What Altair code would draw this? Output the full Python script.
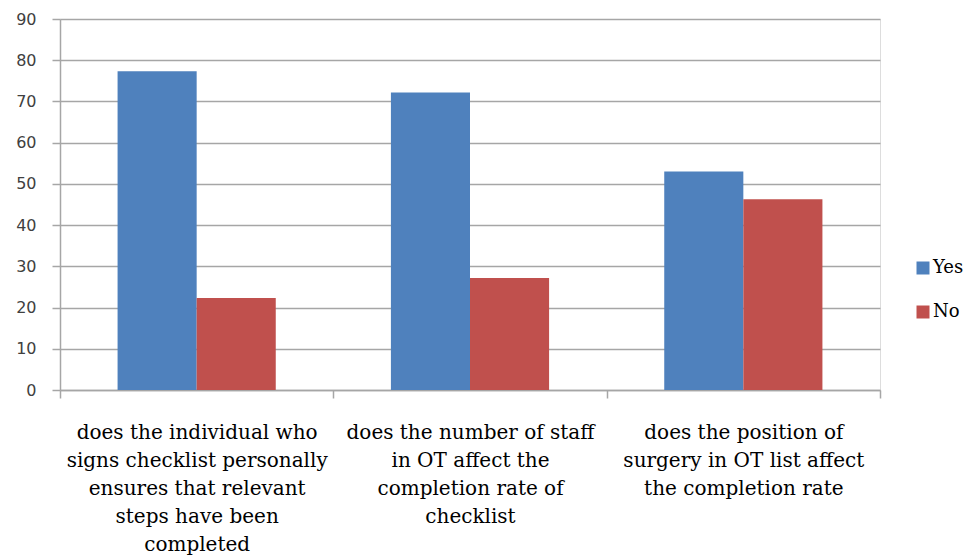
import altair as alt
import pandas as pd

# Survey questions (each split into its wrapped label lines)
questions = [
    ["does the individual who", "signs checklist personally", "ensures that relevant",
     "steps have been", "completed"],
    ["does the number of staff", "in OT affect the", "completion rate of", "checklist"],
    ["does the position of", "surgery in OT list affect", "the completion rate"],
]
responses = ["Yes", "No"]
yes_pct = [77.3, 72.2, 53.0]
no_pct = [22.3, 27.2, 46.3]

labels = ["|".join(q) for q in questions]
rows = []
for lab, y, n in zip(labels, yes_pct, no_pct):
    rows.append({"question": lab, "response": "Yes", "pct": y})
    rows.append({"question": lab, "response": "No", "pct": n})
df = pd.DataFrame(rows)

GRID = "#A6A6A6"
SERIF = "DejaVu Serif"

chart = (
    alt.Chart(df)
    .mark_bar(stroke=None)
    .encode(
        x=alt.X(
            "question:N",
            sort=labels,
            scale=alt.Scale(paddingInner=0, paddingOuter=0),
            axis=alt.Axis(
                title=None,
                labelAngle=0,
                labelExpr="split(datum.label, '|')",
                tickBand="extent",
                grid=False,
                domainColor=GRID,
                domainWidth=1.5,
                tickColor=GRID,
                tickWidth=1.5,
                tickSize=8,
                labelFont=SERIF,
                labelFontSize=20,
                labelColor="#000000",
                labelLineHeight=28,
                labelPadding=24,
                labelLimit=0,
            ),
        ),
        xOffset=alt.XOffset(
            "response:N",
            sort=responses,
            scale=alt.Scale(paddingInner=0, paddingOuter=0.728),
        ),
        y=alt.Y(
            "pct:Q",
            scale=alt.Scale(domain=[0, 90], nice=False),
            axis=alt.Axis(
                title=None,
                values=list(range(0, 91, 10)),
                grid=True,
                gridColor=GRID,
                gridWidth=1.5,
                domainColor=GRID,
                domainWidth=1.5,
                tickColor=GRID,
                tickWidth=1.5,
                tickSize=8,
                labelFont="DejaVu Sans",
                labelFontSize=16,
                labelColor="#404040",
                labelPadding=16,
            ),
        ),
        color=alt.Color(
            "response:N",
            sort=responses,
            scale=alt.Scale(domain=responses, range=["#4F81BD", "#C0504D"]),
            legend=alt.Legend(
                title=None,
                orient="none",
                legendX=854,
                legendY=240,
                padding=0,
                symbolType="square",
                symbolSize=169,
                symbolStrokeWidth=0,
                symbolOpacity=1,
                labelFont=SERIF,
                labelFontSize=18,
                labelColor="#000000",
                labelOffset=1,
                labelLimit=0,
                rowPadding=26,
            ),
        ),
    )
    .properties(
        width=820,
        height=371,
        padding={"left": 60, "top": 19, "right": 87, "bottom": 167},
        autosize=alt.AutoSizeParams(type="none"),
    )
    .configure_view(stroke=None)
    .configure(background="white")
)

chart.save("out.html", embed_options={"renderer": "svg", "actions": False})
